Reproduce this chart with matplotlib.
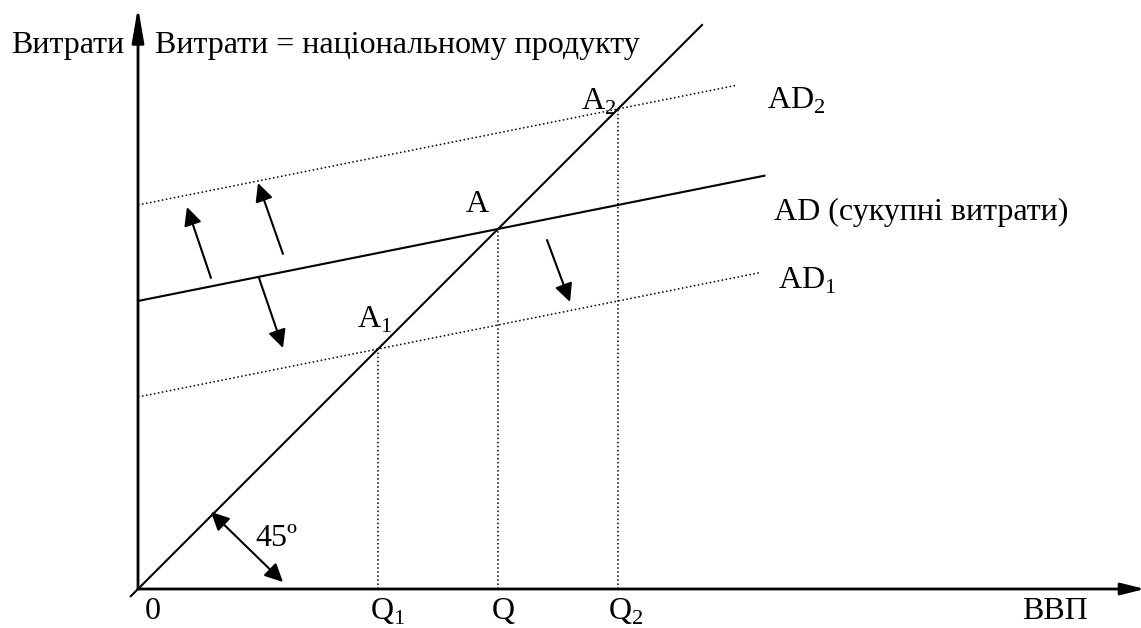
import matplotlib.pyplot as plt
from matplotlib.patches import FancyArrowPatch

plt.rcParams["font.family"] = ["Liberation Serif", "DejaVu Serif"]
plt.rcParams["mathtext.fontset"] = "custom"
plt.rcParams["mathtext.rm"] = "Liberation Serif"

# Equilibrium output levels (Q1, Q, Q2) and labels
q_values = [2, 3, 4]
q_labels = ["Q$_1$", "Q", "Q$_2$"]
point_labels = ["A$_1$", "A", "A$_2$"]

# Aggregate demand lines: intercept, slope, right end
ad_slope = 0.2
ad_intercepts = [1.6, 2.4, 3.2]
ad_ends = [5.18, 5.22, 4.98]
ad_styles = [":", "-", ":"]
ad_labels = ["AD$_1$", "AD (сукупні витрати)", "AD$_2$"]

# 45-degree line extent
diag_range = [-0.06, 4.7]

# Shift arrows (tail x, tail y, head x, head y)
shift_arrows = [
    (0.608, 2.592, 0.408, 3.183),
    (1.208, 2.792, 1.0, 3.383),
    (1.008, 2.592, 1.208, 2.008),
    (3.408, 2.908, 3.6, 2.392),
]
angle_arrow = (0.608, 0.642, 1.208, 0.058)

fig = plt.figure(figsize=(11.41, 6.28), dpi=100)
ax = fig.add_axes([0, 0, 1, 1])
ax.set_xlim(-1.15, 8.358)
ax.set_ylim(-0.325, 4.908)
ax.axis("off")

fs = 23

# Axes with arrows
ax.add_patch(FancyArrowPatch((0, 0), (8.39, 0), arrowstyle="-|>,head_length=0.72,head_width=0.18",
                             mutation_scale=20, lw=2, color="black", shrinkA=0, shrinkB=0))
ax.add_patch(FancyArrowPatch((0, 0), (0, 4.85), arrowstyle="-|>,head_length=1.05,head_width=0.18",
                             mutation_scale=20, lw=2, color="black", shrinkA=0, shrinkB=0))

# 45-degree line
ax.plot(diag_range, diag_range, color="black", lw=1.5)

# AD lines
for b, end, ls in zip(ad_intercepts, ad_ends, ad_styles):
    ax.plot([0, end], [b, b + ad_slope * end], color="black", ls=ls,
            lw=1.5 if ls == "-" else 1.1)

# Vertical dotted lines from equilibria
for q in q_values:
    ax.plot([q, q], [0, q], color="black", ls=":", lw=1.1)

# Shift arrows
for x0, y0, x1, y1 in shift_arrows:
    ax.add_patch(FancyArrowPatch((x0, y0), (x1, y1), arrowstyle="-|>,head_length=0.55,head_width=0.27",
                                 mutation_scale=20, lw=1.5, color="black", shrinkA=0, shrinkB=0))
x0, y0, x1, y1 = angle_arrow
ax.add_patch(FancyArrowPatch((x0, y0), (x1, y1), arrowstyle="<|-|>,head_length=0.55,head_width=0.27",
                             mutation_scale=20, lw=1.5, color="black", shrinkA=0, shrinkB=0))

# Text
ax.text(-1.06, 4.53, "Витрати", fontsize=fs, ha="left", va="center")
ax.text(0.14, 4.53, "Витрати = національному продукту", fontsize=fs, ha="left", va="center")
ax.text(0.12, -0.19, "0", fontsize=fs, ha="center", va="center")
ax.text(7.64, -0.19, "ВВП", fontsize=fs, ha="center", va="center")
q_offsets = [0.08, 0.04, 0.06]
for q, lab, dx in zip(q_values, q_labels, q_offsets):
    ax.text(q + dx, -0.19, lab, fontsize=fs, ha="center", va="center")
pt_offsets = [(-0.03, 0.24), (-0.17, 0.2), (-0.16, 0.06)]
for q, lab, (dx, dy) in zip(q_values, point_labels, pt_offsets):
    ax.text(q + dx, q + dy, lab, fontsize=fs, ha="center", va="center")
label_pos = [(5.33, 2.57), (5.3, 3.14), (5.24, 4.07)]
for (lx, ly), lab in zip(label_pos, ad_labels):
    ax.text(lx, ly, lab, fontsize=fs, ha="left", va="center")
ax.text(0.98, 0.42, "45º", fontsize=fs, ha="left", va="center")

fig.savefig("out.png", dpi=100)
